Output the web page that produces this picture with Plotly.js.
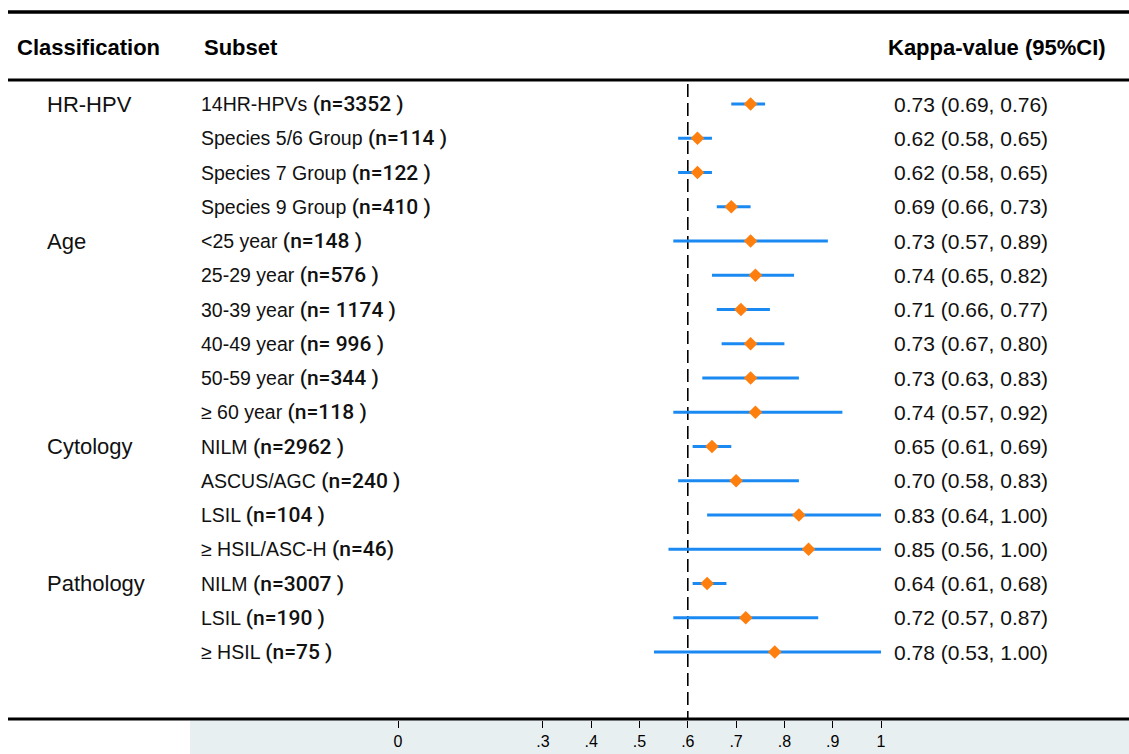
<!DOCTYPE html>
<html>
<head>
<meta charset="utf-8">
<script src="https://cdn.plot.ly/plotly-3.0.1.min.js"></script>
<style>html,body{margin:0;padding:0;background:#fff;}#chart{width:1129px;height:754px;}</style>
</head>
<body>
<div id="chart"></div>
<script>
// ---- data ----
const classifications = ["HR-HPV", "", "", "", "Age", "", "", "", "", "", "Cytology", "", "", "", "Pathology", "", ""];
const subsets = ["14HR-HPVs", "Species 5/6 Group", "Species 7 Group", "Species 9 Group",
  "<25 year", "25-29 year", "30-39 year", "40-49 year", "50-59 year", "\u2265 60 year",
  "NILM", "ASCUS/AGC", "LSIL", "\u2265 HSIL/ASC-H", "NILM", "LSIL", "\u2265 HSIL"];
const counts = ["(n=3352 )", "(n=114 )", "(n=122 )", "(n=410 )",
  "(n=148 )", "(n=576 )", "(n= 1174 )", "(n= 996 )", "(n=344 )", "(n=118 )",
  "(n=2962 )", "(n=240 )", "(n=104 )", "(n=46)", "(n=3007 )", "(n=190 )", "(n=75 )"];
const kappa = [0.73, 0.62, 0.62, 0.69, 0.73, 0.74, 0.71, 0.73, 0.73, 0.74, 0.65, 0.70, 0.83, 0.85, 0.64, 0.72, 0.78];
const lower = [0.69, 0.58, 0.58, 0.66, 0.57, 0.65, 0.66, 0.67, 0.63, 0.57, 0.61, 0.58, 0.64, 0.56, 0.61, 0.57, 0.53];
const upper = [0.76, 0.65, 0.65, 0.73, 0.89, 0.82, 0.77, 0.80, 0.83, 0.92, 0.69, 0.83, 1.00, 1.00, 0.68, 0.87, 1.00];
const tickValues = [0, 0.3, 0.4, 0.5, 0.6, 0.7, 0.8, 0.9, 1];
const tickLabels = ["0", ".3", ".4", ".5", ".6", ".7", ".8", ".9", "1"];
const refLine = 0.6;

// ---- layout helpers ----
const W = 1129, H = 754, B = 34, PH = H - B;
const px = v => v / W;          // pixel x -> paper
const py = v => 1 - v / PH;     // pixel y -> paper
const rows = kappa.map((_, i) => i);
const fmt = v => v.toFixed(2);
const SANS = "Liberation Sans, Arial, sans-serif";

const trace = {
  type: "scatter", mode: "markers",
  x: kappa, y: rows,
  marker: {symbol: "diamond", size: 10.5, color: "#ff7f0e"},
  error_x: {
    type: "data", symmetric: false,
    array: kappa.map((k, i) => upper[i] - k),
    arrayminus: kappa.map((k, i) => k - lower[i]),
    color: "#1a8af2", thickness: 3, width: 0
  },
  hoverinfo: "skip", showlegend: false, cliponaxis: false
};

const annotations = [];
const hdr = (t, x) => annotations.push({xref: "paper", yref: "paper", x: px(x), y: py(48),
  xanchor: "left", yanchor: "middle", showarrow: false, text: "<b>" + t + "</b>",
  font: {family: SANS, size: 22, color: "#000"}});
hdr("Classification", 15);
hdr("Subset", 202);
hdr("Kappa-value (95%CI)", 886);

rows.forEach(i => {
  if (classifications[i]) annotations.push({xref: "paper", yref: "y", x: px(45), y: i,
    xanchor: "left", yanchor: "middle", showarrow: false, text: classifications[i],
    font: {family: SANS, size: 22, color: "#111"}});
  annotations.push({xref: "paper", yref: "y", x: px(199), y: i, xanchor: "left", yanchor: "middle",
    showarrow: false, font: {family: SANS, size: 19.5, color: "#111"},
    text: subsets[i].replace("<", "&lt;") +
      ' <span style="font-family:Roboto;font-weight:500;font-size:21px">' + counts[i] + '</span>'});
  annotations.push({xref: "paper", yref: "y", x: px(892), y: i, xanchor: "left", yanchor: "middle",
    showarrow: false, font: {family: SANS, size: 21, color: "#111"},
    text: fmt(kappa[i]) + " (" + fmt(lower[i]) + ", " + fmt(upper[i]) + ")"});
});

const shapes = [
  {type: "rect", xref: "paper", yref: "paper", x0: px(190), x1: 1, y0: -B / PH, y1: 0,
   fillcolor: "#e8eff1", line: {width: 0}, layer: "below"},
  {type: "line", xref: "paper", yref: "paper", x0: px(8), x1: 1, y0: py(12), y1: py(12), line: {color: "#000", width: 3.5}},
  {type: "line", xref: "paper", yref: "paper", x0: px(8), x1: 1, y0: py(80), y1: py(80), line: {color: "#000", width: 3}},
  {type: "line", xref: "paper", yref: "paper", x0: px(8), x1: 1, y0: py(719), y1: py(719), line: {color: "#000", width: 3}},
  {type: "line", xref: "x", yref: "paper", x0: refLine, x1: refLine, y0: py(84), y1: py(719),
   line: {color: "#000", width: 1.6, dash: "13px,6px"}, layer: "below"}
];

const layout = {
  width: W, height: H,
  margin: {l: 0, r: 0, t: 0, b: B, pad: 0},
  paper_bgcolor: "#fff", plot_bgcolor: "rgba(0,0,0,0)",
  xaxis: {range: [-398 / 483, (W - 398) / 483], tickvals: tickValues, ticktext: tickLabels,
    ticks: "outside", ticklen: 7, tickwidth: 1, tickcolor: "#000",
    showgrid: false, zeroline: false, showline: false, fixedrange: true,
    tickfont: {family: SANS, size: 16, color: "#000"}},
  yaxis: {range: [(PH - 104) / 34.25, -104 / 34.25], showticklabels: false, ticks: "",
    showgrid: false, zeroline: false, showline: false, fixedrange: true},
  shapes: shapes, annotations: annotations
};

Plotly.newPlot("chart", [trace], layout, {displayModeBar: false, staticPlot: true});
</script>
</body>
</html>
